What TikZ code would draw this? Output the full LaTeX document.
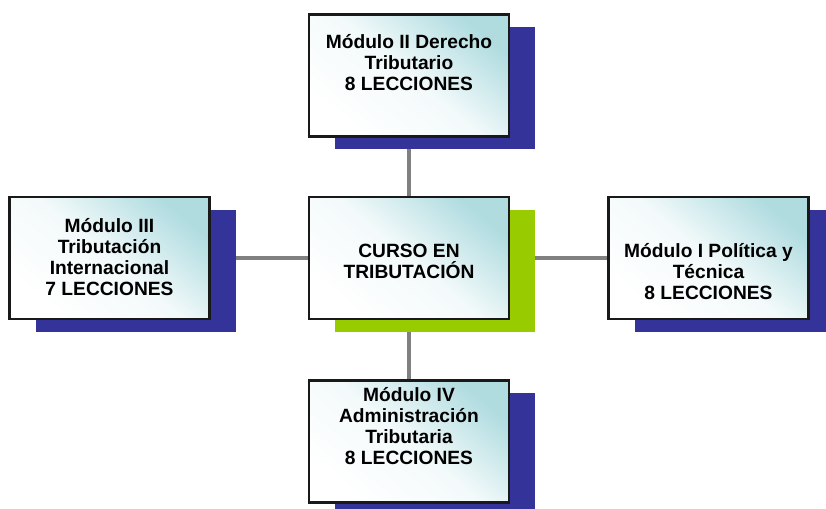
\documentclass[tikz,border=0pt]{standalone}
\usepackage{fontspec}
\setmainfont{Liberation Sans}
\definecolor{navyshadow}{HTML}{333399}
\definecolor{greenshadow}{HTML}{99CC00}
\definecolor{connectorgray}{HTML}{808080}
\definecolor{boxblue}{HTML}{B0DCE0}
\begin{document}
\begin{tikzpicture}[x=0.75pt,y=-0.75pt,
  modbox/.style={draw=black!90, line width=1.6, minimum width=150pt, minimum height=91.5pt,
    inner sep=0pt, top color=boxblue, bottom color=white, middle color=white!85!boxblue, shading angle=-40},
  shadowbox/.style={fill=#1, minimum width=150pt, minimum height=91.5pt, inner sep=0pt},
  txt/.style={font=\fontsize{14.4pt}{15.75pt}\selectfont\bfseries, align=center, inner sep=0pt},
  link/.style={draw=connectorgray, line width=3.4pt}]
\useasboundingbox (0,0) rectangle (826,509);
\coordinate (ctop) at (409,75.5);
\coordinate (ccen) at (409,258);
\coordinate (cleft) at (109.5,258);
\coordinate (cright) at (708.5,258);
\coordinate (cbot) at (409,441.5);
% connectors
\draw[link] (ctop) -- (cbot);
\draw[link] (cleft) -- (cright);
% shadows
\node[shadowbox=navyshadow] (stop) at ([shift={(26,13)}]ctop) {};
\node[shadowbox=greenshadow] (scen) at ([shift={(26,13)}]ccen) {};
\node[shadowbox=navyshadow] (sleft) at ([shift={(26,13)}]cleft) {};
\node[shadowbox=navyshadow] (sright) at ([shift={(26,13)}]cright) {};
\node[shadowbox=navyshadow] (sbot) at ([shift={(26,13)}]cbot) {};
% boxes
\node[modbox] (top) at (ctop) {};
\node[modbox] (cen) at (ccen) {};
\node[modbox] (left) at (cleft) {};
\node[modbox] (right) at (cright) {};
\node[modbox] (bot) at (cbot) {};
% texts
\node[txt] (ttop) at ([shift={(0,-13)}]top.center) {Módulo II Derecho\\Tributario\\8 LECCIONES};
\node[txt] (tcen) at ([shift={(0,3)}]cen.center) {CURSO EN\\TRIBUTACIÓN};
\node[txt] (tleft) at ([shift={(0,-1)}]left.center) {Módulo III\\Tributación\\Internacional\\7 LECCIONES};
\node[txt] (tright) at ([shift={(0,14)}]right.center) {Módulo I Política y\\Técnica\\8 LECCIONES};
\node[txt] (tbot) at ([shift={(0,-15)}]bot.center) {Módulo IV\\Administración\\Tributaria\\8 LECCIONES};
\end{tikzpicture}
\end{document}
